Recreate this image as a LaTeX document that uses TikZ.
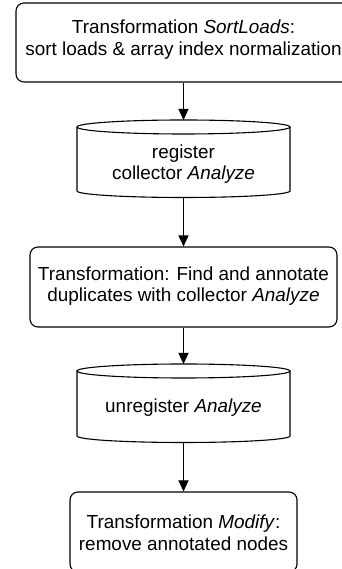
\documentclass[tikz,border=0pt]{standalone}
\usepackage{fontspec}
\setmainfont{Liberation Sans}
\usetikzlibrary{arrows.meta}
\begin{document}
\begin{tikzpicture}[x=1pt,y=1pt,
  every node/.style={font=\fontsize{18.9}{21.5}\selectfont, align=center, inner sep=0pt},
  procbox/.style={draw, line width=1.1pt, rounded corners=8pt},
  cyl/.style={draw, line width=1.1pt},
  flow/.style={line width=1.1pt, -{Triangle[length=11pt,width=10pt]}}]
\useasboundingbox (0,0) rectangle (341,569);
% box 1
\node[procbox, minimum width=335pt, minimum height=79pt] (b1) at (183.5,526.5) {};
\node (t1) at (183.5,529.5) {Transformation \textit{SortLoads}:\\sort loads \& array index normalization};
% cylinder 1
\draw[cyl] (77,442) -- (77,378) arc[start angle=180, end angle=360, x radius=106.5, y radius=6.5] -- (290,442);
\draw[cyl] (183.5,442) ellipse[x radius=106.5, y radius=7];
\coordinate (c1t) at (183.5,449);
\coordinate (c1b) at (183.5,371.5);
\node (t2) at (183.5,405) {register\\collector \textit{Analyze}};
% box 2
\node[procbox, minimum width=307pt, minimum height=80pt] (b2) at (183.5,282) {};
\node (t3) at (183.5,283) {Transformation: Find and annotate\\duplicates with collector \textit{Analyze}};
% cylinder 2
\draw[cyl] (77,198) -- (77,133) arc[start angle=180, end angle=360, x radius=106.5, y radius=6.5] -- (290,198);
\draw[cyl] (183.5,198) ellipse[x radius=106.5, y radius=7];
\coordinate (c2t) at (183.5,205);
\coordinate (c2b) at (183.5,126.5);
\node (t4) at (183.5,161) {unregister \textit{Analyze}};
% box 3
\node[procbox, minimum width=227pt, minimum height=80pt] (b3) at (183.5,37) {};
\node (t5) at (183.5,36.5) {Transformation \textit{Modify}:\\remove annotated nodes};
% connectors
\draw[flow] (b1.south) -- (c1t);
\draw[flow] (c1b) -- (b2.north);
\draw[flow] (b2.south) -- (c2t);
\draw[flow] (c2b) -- (b3.north);
\end{tikzpicture}
\end{document}
